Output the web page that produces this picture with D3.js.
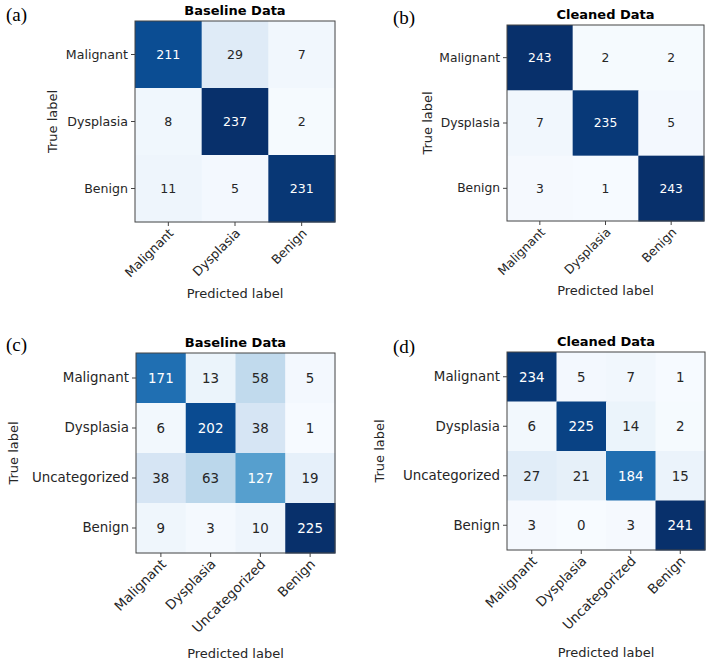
<!DOCTYPE html>
<html>
<head>
<meta charset="utf-8">
<script src="https://cdn.jsdelivr.net/npm/d3@7"></script>
<style>
  body { margin: 0; background: #fff; }
  text { font-family: "DejaVu Sans", sans-serif; fill: #262626; }
  .panel-tag { font-family: "Liberation Serif", "Times New Roman", serif; fill: #000; }
  .title { font-weight: bold; fill: #000; }
</style>
</head>
<body>
<svg width="708" height="664"></svg>
<script>
// class labels
const classes3 = ['Malignant', 'Dysplasia', 'Benign']
const classes4 = ['Malignant', 'Dysplasia', 'Uncategorized', 'Benign']

// confusion matrices (rows = true label, cols = predicted label)
const baseline3 = [
  [211, 29, 7],
  [8, 237, 2],
  [11, 5, 231]
]
const cleaned3 = [
  [243, 2, 2],
  [7, 235, 5],
  [3, 1, 243]
]
const baseline4 = [
  [171, 13, 58, 5],
  [6, 202, 38, 1],
  [38, 63, 127, 19],
  [9, 3, 10, 225]
]
const cleaned4 = [
  [234, 5, 7, 1],
  [6, 225, 14, 2],
  [27, 21, 184, 15],
  [3, 0, 3, 241]
]

const svg = d3.select('svg')

// one panel per matrix, box = plot area in page pixels
const panels = [
  {tag: '(a)', title: 'Baseline Data', labels: classes3, data: baseline3,
   box: [135, 21, 200, 201], fs: 12.6, tagPos: [6, 21], yLab: 52, xLab: 293},
  {tag: '(b)', title: 'Cleaned Data', labels: classes3, data: cleaned3,
   box: [507, 25, 197, 196], fs: 12.3, tagPos: [393, 24], yLab: 427, xLab: 290},
  {tag: '(c)', title: 'Baseline Data', labels: classes4, data: baseline4,
   box: [136, 353, 199, 200], fs: 13.4, tagPos: [6, 351], yLab: 13, xLab: 653},
  {tag: '(d)', title: 'Cleaned Data', labels: classes4, data: cleaned4,
   box: [507, 352, 198, 198], fs: 13.4, tagPos: [393, 353], yLab: 379, xLab: 652}
]

panels.forEach(p => {
  const [bx, by, bw, bh] = p.box
  const g = svg.append('g').attr('transform', `translate(${bx},${by})`)

  const x = d3.scaleBand().domain(p.labels).range([0, bw])
  const y = d3.scaleBand().domain(p.labels).range([0, bh])
  const vmax = d3.max(p.data.flat())
  const color = d3.scaleSequential(d3.interpolateBlues).domain([0, vmax])

  const cells = p.data.flatMap((row, i) => row.map((v, j) => ({r: p.labels[i], c: p.labels[j], v})))

  g.selectAll('rect.cell')
    .data(cells)
    .enter()
    .append('rect')
    .attr('class', 'cell')
    .attr('x', d => x(d.c))
    .attr('y', d => y(d.r))
    .attr('width', x.bandwidth() + 0.5)
    .attr('height', y.bandwidth() + 0.5)
    .attr('fill', d => color(d.v))

  g.selectAll('text.val')
    .data(cells)
    .enter()
    .append('text')
    .attr('class', 'val')
    .attr('x', d => x(d.c) + x.bandwidth() / 2)
    .attr('y', d => y(d.r) + y.bandwidth() / 2)
    .attr('text-anchor', 'middle')
    .attr('dy', '0.36em')
    .style('font-size', p.fs + 'px')
    .style('fill', d => d.v > vmax / 2 ? '#fff' : '#262626')
    .text(d => d.v)

  // frame
  g.append('rect')
    .attr('width', bw).attr('height', bh)
    .attr('fill', 'none').attr('stroke', '#444').attr('stroke-width', 1)

  // y axis
  const yAxis = g.append('g').call(d3.axisLeft(y).tickSize(4).tickPadding(3))
  yAxis.select('.domain').remove()
  yAxis.selectAll('line').attr('stroke', '#444')
  yAxis.selectAll('text').style('font-size', p.fs + 'px').attr('fill', '#262626')

  // x axis, labels turned 45 degrees
  const xAxis = g.append('g').attr('transform', `translate(0,${bh})`)
    .call(d3.axisBottom(x).tickSize(4))
  xAxis.select('.domain').remove()
  xAxis.selectAll('line').attr('stroke', '#444')
  xAxis.selectAll('text')
    .style('font-size', p.fs + 'px')
    .attr('fill', '#262626')
    .attr('text-anchor', 'end')
    .attr('y', 0).attr('dy', 0)
    .attr('transform', 'translate(6,12) rotate(-45)')

  // title
  svg.append('text').attr('class', 'title')
    .attr('x', bx + bw / 2).attr('y', by - 6)
    .attr('text-anchor', 'middle')
    .style('font-size', '13px')
    .text(p.title)

  // panel tag
  svg.append('text').attr('class', 'panel-tag')
    .attr('x', p.tagPos[0]).attr('y', p.tagPos[1])
    .style('font-size', '19px')
    .text(p.tag)

  // axis titles
  svg.append('text')
    .attr('transform', `translate(${p.yLab},${by + bh / 2}) rotate(-90)`)
    .attr('text-anchor', 'middle').attr('dy', '0.35em')
    .style('font-size', '13px')
    .text('True label')

  svg.append('text')
    .attr('x', bx + bw / 2).attr('y', p.xLab)
    .attr('text-anchor', 'middle').attr('dy', '0.35em')
    .style('font-size', '13px')
    .text('Predicted label')
})
</script>
</body>
</html>
